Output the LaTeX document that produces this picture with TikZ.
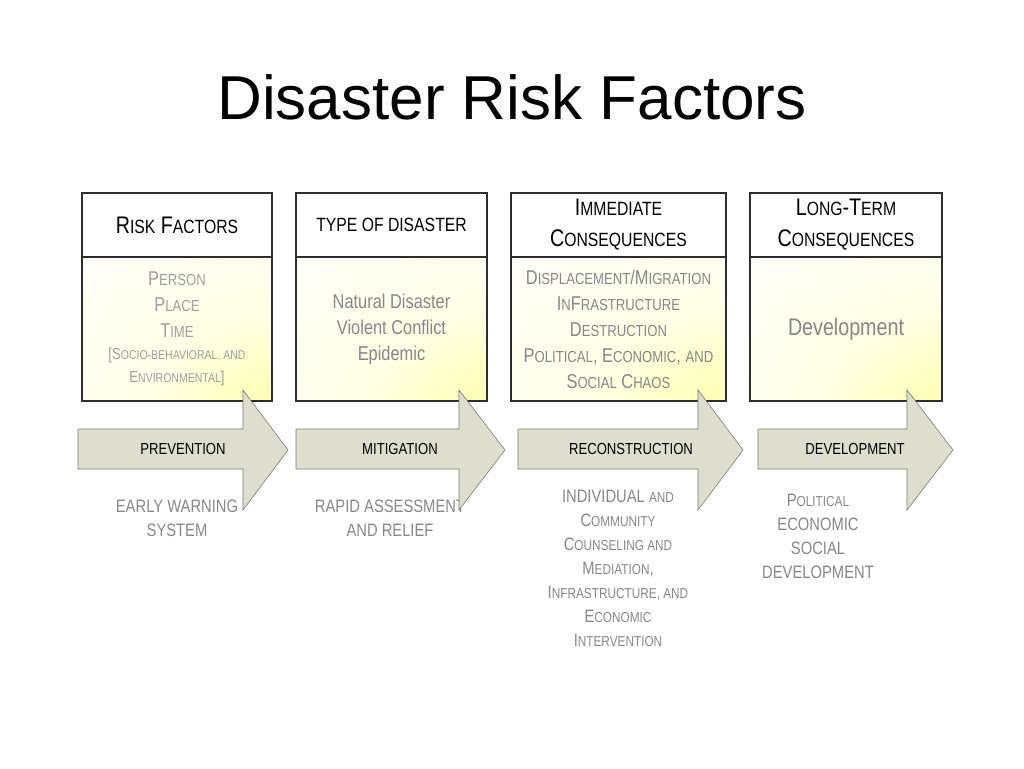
\documentclass[tikz,border=0pt]{standalone}
\usepackage{fontspec}
\setmainfont{Liberation Sans}
\newfontfamily\narrowfont[FakeStretch=0.82]{Liberation Sans}
\usetikzlibrary{positioning}
\definecolor{arrowfill}{RGB}{221,222,205}
\definecolor{arrowline}{RGB}{125,125,112}
\definecolor{softtext}{RGB}{135,135,135}
\definecolor{boxline}{RGB}{45,45,45}
\pgfdeclareradialshading{cornerglow}{\pgfpoint{50bp}{-50bp}}{color(0bp)=(yellow!70); color(16bp)=(yellow!35); color(38bp)=(yellow!10); color(58bp)=(yellow!3); color(72bp)=(white); color(100bp)=(white)}
\makeatletter
\newcommand\smc[1]{{\fontsize{\strip@pt\dimexpr0.8\dimexpr\f@size pt\relax\relax}{\f@baselineskip}\selectfont\MakeUppercase{#1}}}
\makeatother
\tikzset{
  headbox/.style={draw=boxline, line width=1.4pt, fill=white, outer sep=0pt, minimum height=64pt, align=center, font=\narrowfont\fontsize{24}{31}\selectfont},
  bodybox/.style={draw=boxline, line width=1.4pt, shading=cornerglow, outer sep=0pt, minimum height=144pt, align=center, text=softtext, font=\narrowfont\fontsize{20}{26}\selectfont},
  stagearrow/.style={draw=arrowline, fill=arrowfill, line width=0.6pt, line join=miter},
  stagetext/.style={font=\narrowfont\fontsize{16}{18}\selectfont},
  notetext/.style={text=softtext, align=center, font=\narrowfont\fontsize{18}{24}\selectfont}
}
\begin{document}
\begin{tikzpicture}[x=1pt,y=-1pt]
    \useasboundingbox (0,0) rectangle (1024,768);
    \node[font=\fontsize{62}{70}\selectfont] (title) at (512,97) {Disaster Risk Factors};
    % the four boxes
    \node[headbox, minimum width=190pt] (riskhead) at (177,225) {R\smc{isk} F\smc{actors}};
    \node[bodybox, minimum width=190pt, below=0pt of riskhead, text=softtext!80] (riskbody) {P\smc{erson}\\ P\smc{lace}\\ T\smc{ime}\\[-4pt] {\fontsize{16}{22}\selectfont [S\smc{ocio-behavioral, and}}\\[-3pt] {\fontsize{16}{22}\selectfont E\smc{nvironmental}]}};
    \node[headbox, minimum width=191pt] (typehead) at (391.5,225) {\smc{type of disaster}};
    \node[bodybox, minimum width=191pt, below=0pt of typehead] (typebody) {Natural Disaster\\ Violent Conflict\\ Epidemic};
    \node[headbox, minimum width=215pt] (immhead) at (618.5,225) {I\smc{mmediate}\\ C\smc{onsequences}};
    \node[bodybox, minimum width=215pt, below=0pt of immhead] (immbody) {D\smc{isplacement}/M\smc{igration}\\ I\smc{n}F\smc{rastructure}\\ D\smc{estruction}\\ P\smc{olitical}, E\smc{conomic}, \smc{and}\\ S\smc{ocial} C\smc{haos}};
    \node[headbox, minimum width=192pt] (longhead) at (846,225) {L\smc{ong}-T\smc{erm}\\ C\smc{onsequences}};
    \node[bodybox, minimum width=192pt, below=0pt of longhead, font=\narrowfont\fontsize{24}{28}\selectfont] (longbody) {Development};
    % notes under the arrows
    \node[notetext] (warning) at (177,518) {EARLY WARNING\\ SYSTEM};
    \node[notetext] (relief) at (390,518) {RAPID ASSESSMENT\\ AND RELIEF};
    \node[notetext] (intervention) at (618,568) {INDIVIDUAL \smc{and}\\ C\smc{ommunity}\\ C\smc{ounseling and}\\ M\smc{ediation},\\ I\smc{nfrastructure, and}\\ E\smc{conomic}\\ I\smc{ntervention}};
    \node[notetext] (social) at (818,536) {P\smc{olitical}\\ ECONOMIC\\ SOCIAL\\ DEVELOPMENT};
    % the stage arrows
    \draw[stagearrow] (78,429) -- (243,429) -- (243,390) -- (288,450) -- (243,510) -- (243,469) -- (78,469) -- cycle;
    \draw[stagearrow] (296,429) -- (459,429) -- (459,390) -- (505,450) -- (459,510) -- (459,469) -- (296,469) -- cycle;
    \draw[stagearrow] (518,429) -- (698,429) -- (698,390) -- (743,450) -- (698,510) -- (698,469) -- (518,469) -- cycle;
    \draw[stagearrow] (758,429) -- (907,429) -- (907,390) -- (953,450) -- (907,510) -- (907,469) -- (758,469) -- cycle;
    \node[stagetext] (prevention) at (183,449) {PREVENTION};
    \node[stagetext] (mitigation) at (400,449) {MITIGATION};
    \node[stagetext] (reconstruction) at (631,449) {RECONSTRUCTION};
    \node[stagetext] (development) at (855,449) {DEVELOPMENT};
\end{tikzpicture}
\end{document}
